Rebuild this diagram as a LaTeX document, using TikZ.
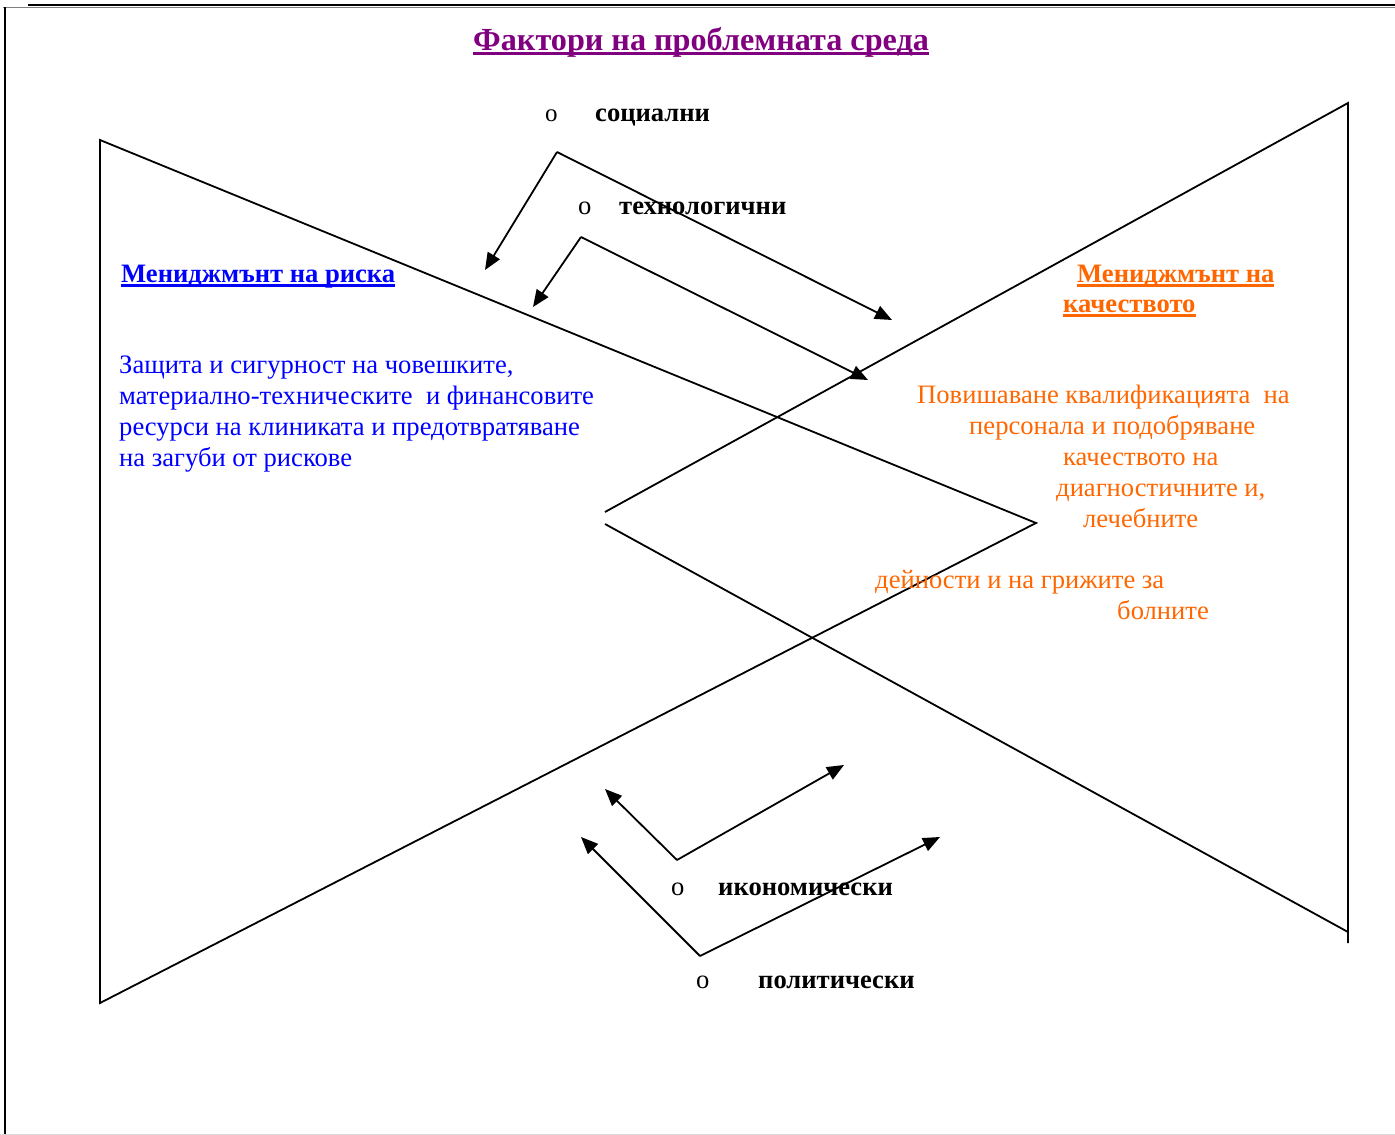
\documentclass[tikz,border=0pt]{standalone}
\usepackage{fontspec}
\setmainfont{Liberation Serif}
\usetikzlibrary{arrows.meta}
\definecolor{ttlpurple}{HTML}{800080}
\definecolor{riskblue}{HTML}{0000FF}
\definecolor{qorange}{HTML}{FF6600}
\newcommand\myul[2][2.2pt]{\setbox0\hbox{#2}\rlap{\rule[-4.5pt]{\wd0}{#1}}\box0}
\begin{document}
\begin{tikzpicture}[x=1pt,y=-1pt,
  txt/.style={inner sep=0pt, anchor=base west, font=\fontsize{26.6}{31}\selectfont},
  boldtxt/.style={txt, font=\fontsize{26.6}{31}\selectfont\bfseries},
  titletxt/.style={inner sep=0pt, anchor=base west, font=\fontsize{32.2}{36}\selectfont\bfseries, text=ttlpurple},
  tri/.style={line width=1.8pt, line join=miter},
  arr/.style={line width=1.8pt, -{Triangle[length=17pt,width=14pt]}},
  bullet/.style={txt, font=\fontsize{25}{30}\selectfont}
]
\useasboundingbox (0,0) rectangle (1395,1135);
% page frame
\draw[line width=2pt] (28,5) -- (1395,5);
\draw[line width=1pt, gray] (3,7.5) -- (1395,7.5);
\draw[line width=2pt] (4.5,7) -- (4.5,1135);
\draw[line width=1pt, black!15] (0,1134) -- (1395,1134);
% left triangle
\coordinate (LT) at (100,140);
\coordinate (LB) at (100,1003);
\coordinate (LA) at (1036,523);
\draw[tri] (LT) -- (LA) -- (LB) -- cycle;
% right triangle
\coordinate (RT) at (1348,103);
\coordinate (RB) at (1348,932);
\coordinate (RE) at (1348,943);
\coordinate (RA1) at (605,512);
\coordinate (RA2) at (605,524);
\draw[tri] (RA1) -- (RT) -- (RE);
\draw[tri] (RA2) -- (RB);
% arrow corners and tips
\coordinate (sc) at (557,152);
\coordinate (sl) at (485,270);
\coordinate (sr) at (892,320);
\coordinate (tc) at (581,237);
\coordinate (tl) at (533,307);
\coordinate (tr) at (868,380);
\coordinate (ec) at (677,860);
\coordinate (el) at (605,789);
\coordinate (er) at (844,765);
\coordinate (pc) at (700,956);
\coordinate (pl) at (581,837);
\coordinate (pr) at (940,837);
\draw[arr] (sc) -- (sl);
\draw[arr] (sc) -- (sr);
\draw[arr] (tc) -- (tl);
\draw[arr] (tc) -- (tr);
\draw[arr] (ec) -- (el);
\draw[arr] (ec) -- (er);
\draw[arr] (pc) -- (pl);
\draw[arr] (pc) -- (pr);
% title
\node[titletxt] (title) at (473,50) {\myul[2.8pt]{Фактори на проблемната среда}};
% factor labels
\node[bullet] (bs) at (545,121) {o};
\node[boldtxt] (soc) at (595,121) {социални};
\node[txt] (bt) at (578,214) {o};
\node[boldtxt] (tech) at (619,214) {технологични};
\node[txt] (be) at (671,895) {o};
\node[boldtxt] (econ) at (718,895) {икономически};
\node[txt] (bp) at (696,988) {o};
\node[boldtxt] (pol) at (758,988) {политически};
% risk management
\node[boldtxt, text=riskblue] (riskh) at (121,282) {\myul{Мениджмънт на риска}};
\node[txt, text=riskblue] (r1) at (119,373) {Защита и сигурност на човешките,};
\node[txt, text=riskblue] (r2) at (119,404) {материално-техническите \ и финансовите};
\node[txt, text=riskblue] (r3) at (119,435) {ресурси на клиниката и предотвратяване};
\node[txt, text=riskblue] (r4) at (119,466) {на загуби от рискове};
% quality management
\node[boldtxt, text=qorange] (qh1) at (1077,282) {\myul{Мениджмънт на}};
\node[boldtxt, text=qorange] (qh2) at (1063,312) {\myul{качеството}};
\node[txt, text=qorange] (q1) at (917,403) {Повишаване квалификацията \ на};
\node[txt, text=qorange] (q2) at (969,434) {персонала и подобряване};
\node[txt, text=qorange] (q3) at (1063,465) {качеството на};
\node[txt, text=qorange] (q4) at (1056,496) {диагностичните и,};
\node[txt, text=qorange] (q5) at (1083,527) {лечебните};
\node[txt, text=qorange] (q6) at (875,588) {дейности и на грижите за};
\node[txt, text=qorange] (q7) at (1117,619) {болните};
\end{tikzpicture}
\end{document}
